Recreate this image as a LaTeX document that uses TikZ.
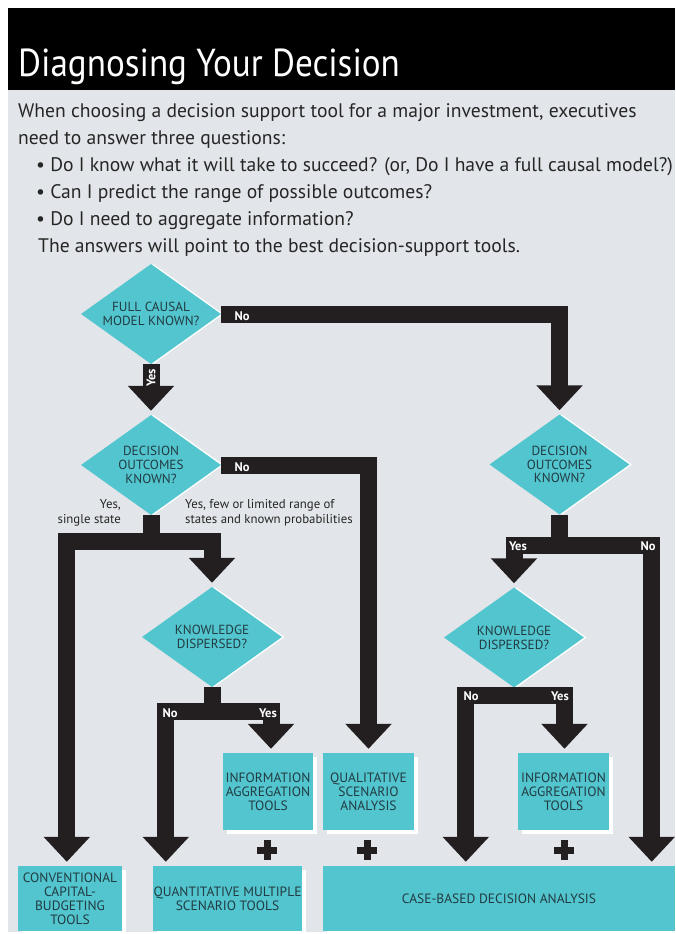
\documentclass[tikz,border=0pt]{standalone}
\usepackage{fontspec}
\setmainfont{PT Sans}
\newfontfamily\headfont{PT Sans}[FakeStretch=0.9]
\usetikzlibrary{arrows.meta,shapes.geometric,shadows}

\definecolor{panel}{HTML}{E2E5E9}
\definecolor{flowc}{HTML}{231F20}
\definecolor{cyanc}{HTML}{52C5CE}
\definecolor{boxtxt}{HTML}{233B42}
\definecolor{bodytxt}{HTML}{262626}

\begin{document}
\begin{tikzpicture}[x=1pt,y=-1pt,
  title/.style={anchor=base west, inner sep=0pt, text=white, font=\headfont\fontsize{39}{42}\selectfont},
  body/.style={anchor=base west, inner sep=0pt, text=bodytxt, font=\fontsize{19.6}{22}\selectfont},
  dia/.style={diamond, fill=cyanc, minimum width=140pt, minimum height=100pt, inner sep=0pt,
    drop shadow={shadow xshift=2.5pt, shadow yshift=0pt, fill=white, opacity=1}},
  dtxt/.style={align=center, text=boxtxt, inner sep=0pt, font=\fontsize{13.2}{13.8}\selectfont},
  tool/.style={rectangle, fill=cyanc, inner sep=0pt, align=center, text=boxtxt,
    font=\fontsize{13.5}{14}\selectfont,
    drop shadow={shadow xshift=4pt, shadow yshift=-4pt, fill=white, opacity=1}},
  flow/.style={draw=flowc, line width=17pt, line join=miter, shorten >=4pt,
    -{Triangle[width=45pt,length=25pt]}},
  lbl/.style={text=white, inner sep=0pt, font=\bfseries\fontsize{12.5}{13}\selectfont},
  note/.style={text=bodytxt, inner sep=0pt, font=\fontsize{12.8}{15.5}\selectfont},
  plus/.pic={\fill[flowc] (-10,-3.5) rectangle (10,3.5);
             \fill[flowc] (-3.5,-10) rectangle (3.5,10);}
]
\useasboundingbox (0,0) rectangle (675,934);
\fill[white] (0,0) rectangle (675,934);
\fill[panel] (8,90) rectangle (675,932);
\fill[black] (8,8) rectangle (675,90);

% heading and introduction
\node[title] (ttl) at (18,77) {Diagnosing Your Decision};
\node[body] (l1) at (18,117) {When choosing a decision support tool for a major investment, executives};
\node[body] (l2) at (18,144) {need to answer three questions:};
\node[body] (b1) at (36,171) {\textbullet\ Do I know what it will take to succeed? (or, Do I have a full causal model?)};
\node[body] (b2) at (36,198) {\textbullet\ Can I predict the range of possible outcomes?};
\node[body] (b3) at (36,225) {\textbullet\ Do I need to aggregate information?};
\node[body] (l3) at (38,252) {The answers will point to the best decision-support tools.};

% decision diamonds
\node[dia, label={[dtxt]center:{FULL CAUSAL\\MODEL KNOWN?}}] (d1) at (151,314) {};
\node[dia, label={[dtxt]center:{DECISION\\OUTCOMES\\KNOWN?}}] (d2) at (151,465) {};
\node[dia, label={[dtxt]center:{DECISION\\OUTCOMES\\KNOWN?}}] (d3) at (559.5,464.5) {};
\node[dia, label={[dtxt]center:{KNOWLEDGE\\DISPERSED?}}] (k1) at (212,637) {};
\node[dia, label={[dtxt]center:{KNOWLEDGE\\DISPERSED?}}] (k2) at (514,637.5) {};

% tools
\node[tool, minimum width=90pt, minimum height=77pt] (info1) at (268,791.5) {INFORMATION\\AGGREGATION\\TOOLS};
\node[tool, minimum width=91pt, minimum height=77pt] (qual) at (368.5,791.5) {QUALITATIVE\\SCENARIO\\ANALYSIS};
\node[tool, minimum width=91pt, minimum height=77pt] (info2) at (563.5,791.5) {INFORMATION\\AGGREGATION\\TOOLS};
\node[tool, minimum width=104pt, minimum height=65pt] (conv) at (70,898.5) {CONVENTIONAL\\CAPITAL-\\BUDGETING\\TOOLS};
\node[tool, minimum width=149pt, minimum height=65pt] (quant) at (227.5,898.5) {QUANTITATIVE MULTIPLE\\SCENARIO TOOLS};
\node[tool, minimum width=352pt, minimum height=65pt] (case) at (499,898.5) {CASE-BASED DECISION ANALYSIS};

% branch points
\coordinate (j2) at (151,541);
\coordinate (j3) at (212,711.5);
\coordinate (j4) at (559.5,545.5);
\coordinate (j5) at (514,695.5);

% connectors
\draw[flow] (d1.east) -| (d3.north);
\draw[flow] (d1.south) -- (d2.north);
\draw[flow] (d2.east) -| (qual.north);
\draw[flow] (d2.south) -- (j2) -| ([xshift=49pt]conv.north west);
\draw[flow] (j2) -| (k1.north);
\draw[flow] (k1.south) -- (j3) -| ([xshift=13pt]quant.north west);
\draw[flow] (j3) -| ([xshift=3pt]info1.north);
\draw[flow] (d3.south) -- (j4) -| (k2.north);
\draw[flow] (j4) -| ([xshift=-23.5pt]case.north east);
\draw[flow] (k2.south) -- (j5) -| ([xshift=143pt]case.north west);
\draw[flow] (j5) -| ([xshift=1pt]info2.north);

% answers on the connectors
\node[lbl] (n1) at (242,316) {No};
\node[lbl, rotate=90] (y1) at (151,378) {Yes};
\node[lbl] (n2) at (242,467) {No};
\node[lbl] (n3) at (170,713) {No};
\node[lbl] (y3) at (268,713) {Yes};
\node[lbl] (y4) at (518,546) {Yes};
\node[lbl] (n4) at (648,546) {No};
\node[lbl] (n5) at (471,696) {No};
\node[lbl] (y5) at (560,696) {Yes};

\node[note, align=right, anchor=north east] (s1) at (121,499) {Yes,\\single state};
\node[note, align=left, anchor=north west] (s2) at (185,499) {Yes, few or limited range of\\states and known probabilities};

% combination marks
\pic at (267,850) {plus};
\pic at (367,850) {plus};
\pic at (564,850) {plus};
\end{tikzpicture}
\end{document}
